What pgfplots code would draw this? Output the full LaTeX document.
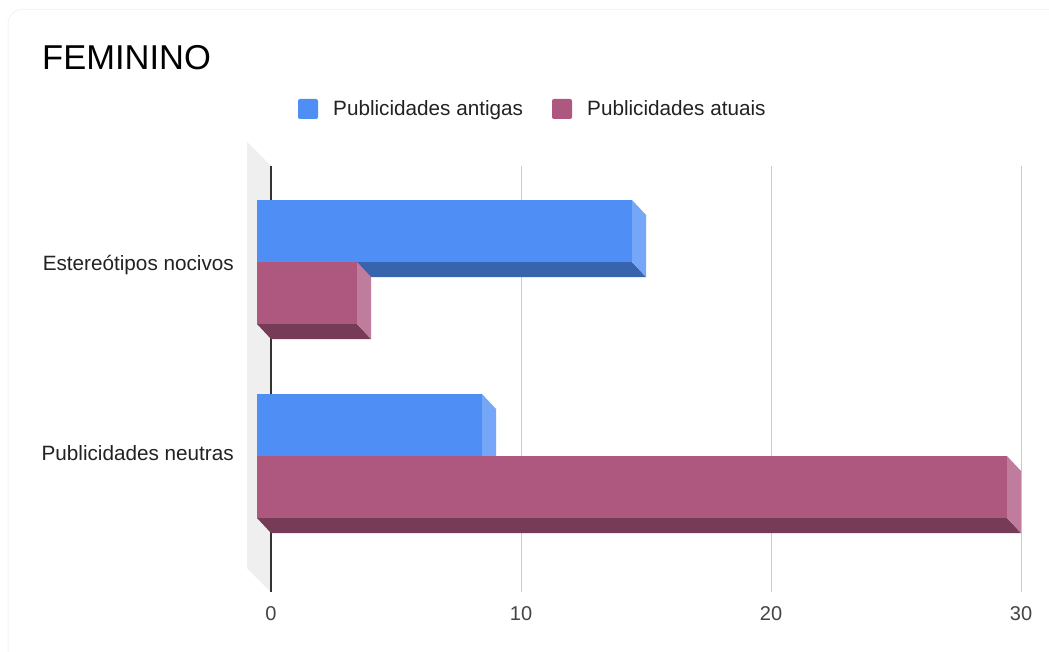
\documentclass[border=0pt]{standalone}
\usepackage{pgfplots}
\usepackage{pgfplotstable}
\pgfplotsset{compat=1.18}
\usepackage{fontspec}
\setmainfont{Liberation Sans}

% face colours of the 3D bars
\definecolor{antFront}{HTML}{4F8EF5}
\definecolor{antSide}{HTML}{76A6F8}
\definecolor{antBottom}{HTML}{3764AC}
\definecolor{atuFront}{HTML}{AE5880}
\definecolor{atuSide}{HTML}{C07C9C}
\definecolor{atuBottom}{HTML}{763B57}
\definecolor{wallgray}{HTML}{EFEFEF}
\definecolor{gridgray}{HTML}{CCCCCC}
\definecolor{zeroline}{HTML}{333333}
\definecolor{labelgray}{HTML}{222222}
\definecolor{tickgray}{HTML}{444444}
\definecolor{framegray}{HTML}{F5F5F5}

\pgfplotstableread{
cat antigas atuais
0   15      4
1   9       30
}\femtable

\pgfplotstablegetelem{0}{antigas}\of\femtable \edef\vAntA{\pgfplotsretval}
\pgfplotstablegetelem{0}{atuais}\of\femtable  \edef\vAtuA{\pgfplotsretval}
\pgfplotstablegetelem{1}{antigas}\of\femtable \edef\vAntB{\pgfplotsretval}
\pgfplotstablegetelem{1}{atuais}\of\femtable  \edef\vAtuB{\pgfplotsretval}

% depth of the extrusion (x in data units, y in points) and bar thickness
\def\dx{0.56}
\def\dy{15}
\def\barh{62}

% #1 value, #2 top of front face, #3 front, #4 side, #5 bottom colour
\newcommand\cube[5]{%
  \pgfmathsetmacro\xl{-\dx}%
  \pgfmathsetmacro\xr{#1-\dx}%
  \pgfmathsetmacro\yt{#2}%
  \pgfmathsetmacro\yf{#2+\barh}%
  \pgfmathsetmacro\ytb{#2+\dy}%
  \pgfmathsetmacro\yb{#2+\barh+\dy}%
  \edef\cubecmds{%
    \noexpand\addplot[draw=none,fill=#3] coordinates {(\xl,\yt) (\xr,\yt) (\xr,\yf) (\xl,\yf)} --cycle;
    \noexpand\addplot[draw=none,fill=#5] coordinates {(\xl,\yf) (\xr,\yf) (#1,\yb) (0,\yb)} --cycle;
    \noexpand\addplot[draw=none,fill=#4] coordinates {(\xr,\yt) (#1,\ytb) (#1,\yb) (\xr,\yf)} --cycle;
  }\cubecmds
}

\begin{document}
\begin{tikzpicture}[x=1pt,y=1pt]
\path[use as bounding box] (0,0) rectangle (1049,651);
\fill[white] (0,0) rectangle (1049,651);
% card outline
\draw[framegray, line width=1pt, rounded corners=14] (8,-5) -- (8,641.5) -- (1060,641.5);

\begin{axis}[
  at={(0,0)}, anchor=south west,
  scale only axis, width=1049pt, height=651pt,
  xmin=-10.84, xmax=31.12,
  ymin=0, ymax=651, y dir=reverse,
  axis lines=none, xtick=\empty, ytick=\empty,
  clip=false,
]
% side wall
\addplot[draw=none, fill=wallgray] coordinates {(-0.96,142) (0,166) (0,592) (-0.96,568)} --cycle;
% grid lines
\addplot[draw=gridgray, line width=1pt] coordinates {(10,166) (10,592)};
\addplot[draw=gridgray, line width=1pt] coordinates {(20,166) (20,592)};
\addplot[draw=gridgray, line width=1pt] coordinates {(30,166) (30,592)};
\addplot[draw=zeroline, line width=1.2pt] coordinates {(0,166) (0,592)};

% Estereotipos nocivos
\cube{\vAntA}{200}{antFront}{antSide}{antBottom}
\cube{\vAtuA}{262}{atuFront}{atuSide}{atuBottom}
% Publicidades neutras
\cube{\vAntB}{394}{antFront}{antSide}{antBottom}
\cube{\vAtuB}{456}{atuFront}{atuSide}{atuBottom}
\end{axis}

% title
\node[anchor=base west, inner sep=0pt] at (42,581) {\fontsize{34.5}{36}\selectfont FEMININO};

% legend
\fill[antFront, rounded corners=2] (298,532) rectangle (318,552);
\node[anchor=base west, inner sep=0pt, text=labelgray] at (333,535.3) {\fontsize{20.7}{24}\selectfont Publicidades antigas};
\fill[atuFront, rounded corners=2] (552,532) rectangle (572,552);
\node[anchor=base west, inner sep=0pt, text=labelgray] at (587,535.3) {\fontsize{20.7}{24}\selectfont Publicidades atuais};

% category labels
\node[anchor=base east, inner sep=0pt, text=labelgray] at (234,380.3) {\fontsize{20.7}{24}\selectfont Estereótipos nocivos};
\node[anchor=base east, inner sep=0pt, text=labelgray] at (234,190) {\fontsize{20.7}{24}\selectfont Publicidades neutras};

% value axis tick labels
\foreach \v/\px in {0/271,10/521,20/771,30/1021}
  \node[anchor=base, inner sep=0pt, text=tickgray] at (\px,30.5) {\fontsize{20}{24}\selectfont \v};
\end{tikzpicture}
\end{document}
